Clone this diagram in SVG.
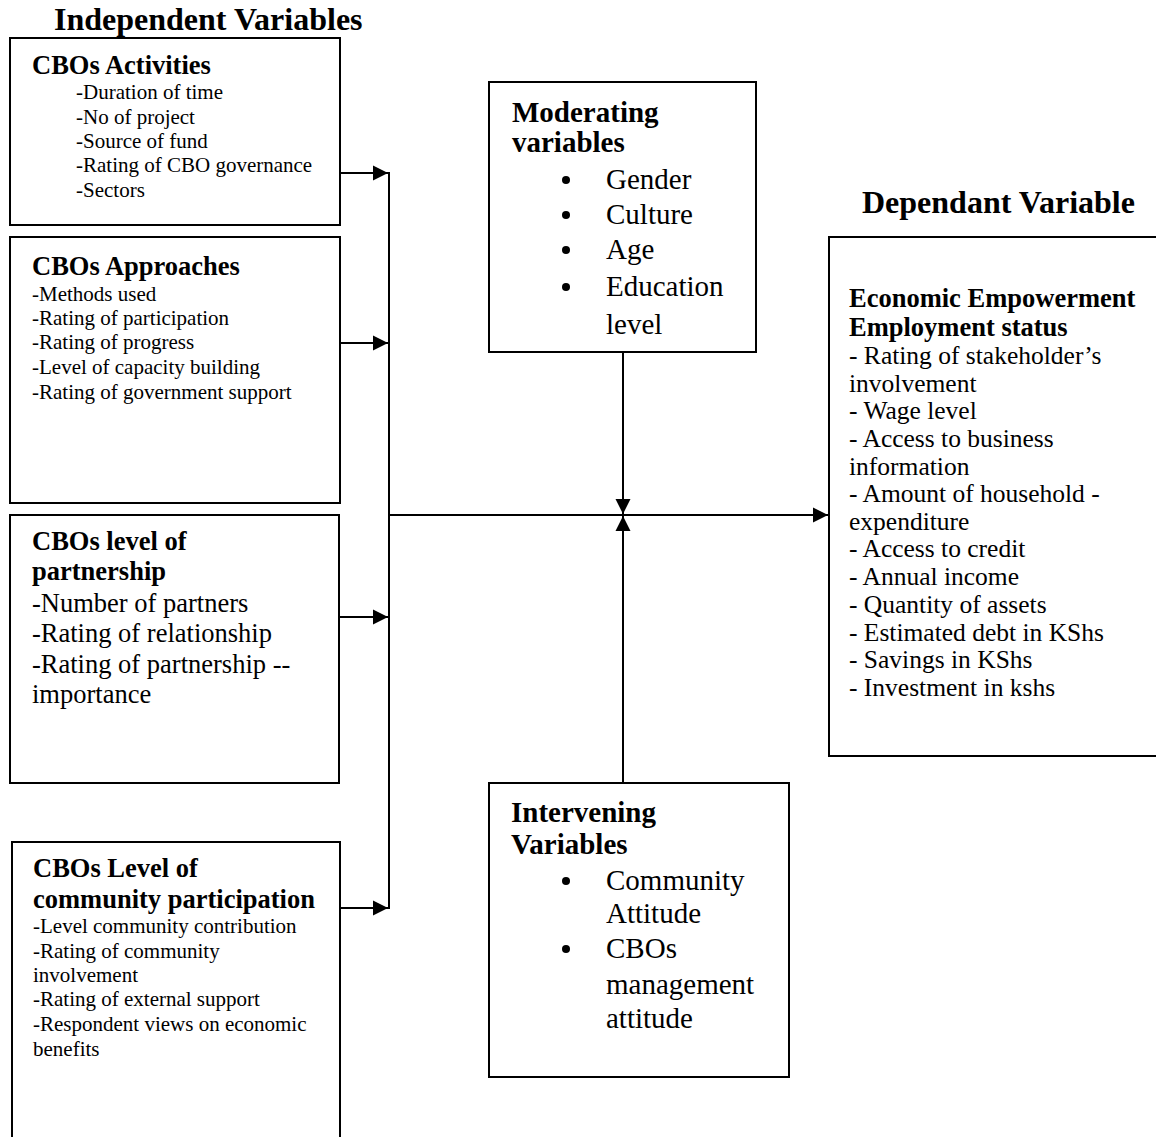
<svg xmlns="http://www.w3.org/2000/svg" width="1156" height="1137" viewBox="0 0 1156 1137">
<defs>
<style>
text{font-family:"Liberation Serif","Times New Roman",serif;fill:#000}
.hd{font-size:32px;font-weight:bold}
.tb{font-size:26.5px;font-weight:bold}
.tm{font-size:29px;font-weight:bold}
.s{font-size:21px}
.m{font-size:26.5px}
.l{font-size:29px}
.r{font-size:25.5px}
.box{fill:#fff;stroke:#000;stroke-width:2}
.ln{stroke:#000;stroke-width:2;fill:none}
</style>
<marker id="ah" markerWidth="16" markerHeight="16" viewBox="0 0 16 16" refX="15" refY="8" orient="auto" markerUnits="userSpaceOnUse">
<path d="M0,0.5 L15,8 L0,15.5 Z" fill="#000"/>
</marker>
</defs>
<rect width="1156" height="1137" fill="#fff"/>
<text class="hd" x="54" y="30">Independent Variables</text>
<text class="hd" x="862" y="213">Dependant Variable</text>

<g id="connectors">
<line class="ln" x1="340" y1="173" x2="388" y2="173" marker-end="url(#ah)"/>
<line class="ln" x1="340" y1="343" x2="388" y2="343" marker-end="url(#ah)"/>
<line class="ln" x1="340" y1="617" x2="388" y2="617" marker-end="url(#ah)"/>
<line class="ln" x1="340" y1="908" x2="388" y2="908" marker-end="url(#ah)"/>
<line class="ln" x1="389" y1="172" x2="389" y2="909"/>
<line class="ln" x1="389" y1="515" x2="828" y2="515" marker-end="url(#ah)"/>
<line class="ln" x1="623" y1="352" x2="623" y2="514" marker-end="url(#ah)"/>
<line class="ln" x1="623" y1="783" x2="623" y2="516" marker-end="url(#ah)"/>
</g>

<g id="activities">
<rect class="box" x="10" y="38" width="330" height="187"/>
<text class="tb" x="32" y="74">CBOs Activities</text>
<text class="s" x="76" y="99">-Duration of time</text>
<text class="s" x="76" y="124">-No of project</text>
<text class="s" x="76" y="148">-Source of fund</text>
<text class="s" x="76" y="172">-Rating of CBO governance</text>
<text class="s" x="76" y="197">-Sectors</text>
</g>

<g id="approaches">
<rect class="box" x="10" y="237" width="330" height="266"/>
<text class="tb" x="32" y="275">CBOs Approaches</text>
<text class="s" x="32" y="301">-Methods used</text>
<text class="s" x="32" y="325">-Rating of participation</text>
<text class="s" x="32" y="349">-Rating of progress</text>
<text class="s" x="32" y="374">-Level of capacity building</text>
<text class="s" x="32" y="399">-Rating of government support</text>
</g>

<g id="partnership">
<rect class="box" x="10" y="515" width="329" height="268"/>
<text class="tb" x="32" y="550">CBOs level of</text>
<text class="tb" x="32" y="580">partnership</text>
<text class="m" x="32" y="612">-Number of partners</text>
<text class="m" x="32" y="642">-Rating of relationship</text>
<text class="m" x="32" y="673">-Rating of partnership --</text>
<text class="m" x="32" y="703">importance</text>
</g>

<g id="community">
<rect class="box" x="12" y="842" width="328" height="310"/>
<text class="tb" x="33" y="877">CBOs Level of</text>
<text class="tb" x="33" y="908">community participation</text>
<text class="s" x="33" y="933">-Level community contribution</text>
<text class="s" x="33" y="958">-Rating of community</text>
<text class="s" x="33" y="982">involvement</text>
<text class="s" x="33" y="1006">-Rating of external support</text>
<text class="s" x="33" y="1031">-Respondent views on economic</text>
<text class="s" x="33" y="1056">benefits</text>
</g>

<g id="moderating">
<rect class="box" x="489" y="82" width="267" height="270"/>
<text class="tm" x="512" y="122">Moderating</text>
<text class="tm" x="512" y="152">variables</text>
<circle cx="566" cy="180" r="4"/>
<circle cx="566" cy="215" r="4"/>
<circle cx="566" cy="250" r="4"/>
<circle cx="566" cy="287" r="4"/>
<text class="l" x="606" y="189">Gender</text>
<text class="l" x="606" y="224">Culture</text>
<text class="l" x="606" y="259">Age</text>
<text class="l" x="606" y="296">Education</text>
<text class="l" x="606" y="334">level</text>
</g>

<g id="intervening">
<rect class="box" x="489" y="783" width="300" height="294"/>
<text class="tm" x="511" y="822">Intervening</text>
<text class="tm" x="511" y="854">Variables</text>
<circle cx="566" cy="881" r="4"/>
<circle cx="566" cy="949" r="4"/>
<text class="l" x="606" y="890">Community</text>
<text class="l" x="606" y="923">Attitude</text>
<text class="l" x="606" y="958">CBOs</text>
<text class="l" x="606" y="994">management</text>
<text class="l" x="606" y="1028">attitude</text>
</g>

<g id="dependent">
<rect class="box" x="829" y="237" width="335" height="519"/>
<text class="tb" x="849" y="307">Economic Empowerment</text>
<text class="tb" x="849" y="336">Employment status</text>
<text class="r" x="849" y="364">- Rating of stakeholder’s</text>
<text class="r" x="849" y="392">involvement</text>
<text class="r" x="849" y="419">- Wage level</text>
<text class="r" x="849" y="447">- Access to business</text>
<text class="r" x="849" y="475">information</text>
<text class="r" x="849" y="502">- Amount of household -</text>
<text class="r" x="849" y="530">expenditure</text>
<text class="r" x="849" y="557">- Access to credit</text>
<text class="r" x="849" y="585">- Annual income</text>
<text class="r" x="849" y="613">- Quantity of assets</text>
<text class="r" x="849" y="641">- Estimated debt in KShs</text>
<text class="r" x="849" y="668">- Savings in KShs</text>
<text class="r" x="849" y="696">- Investment in kshs</text>
</g>
</svg>
